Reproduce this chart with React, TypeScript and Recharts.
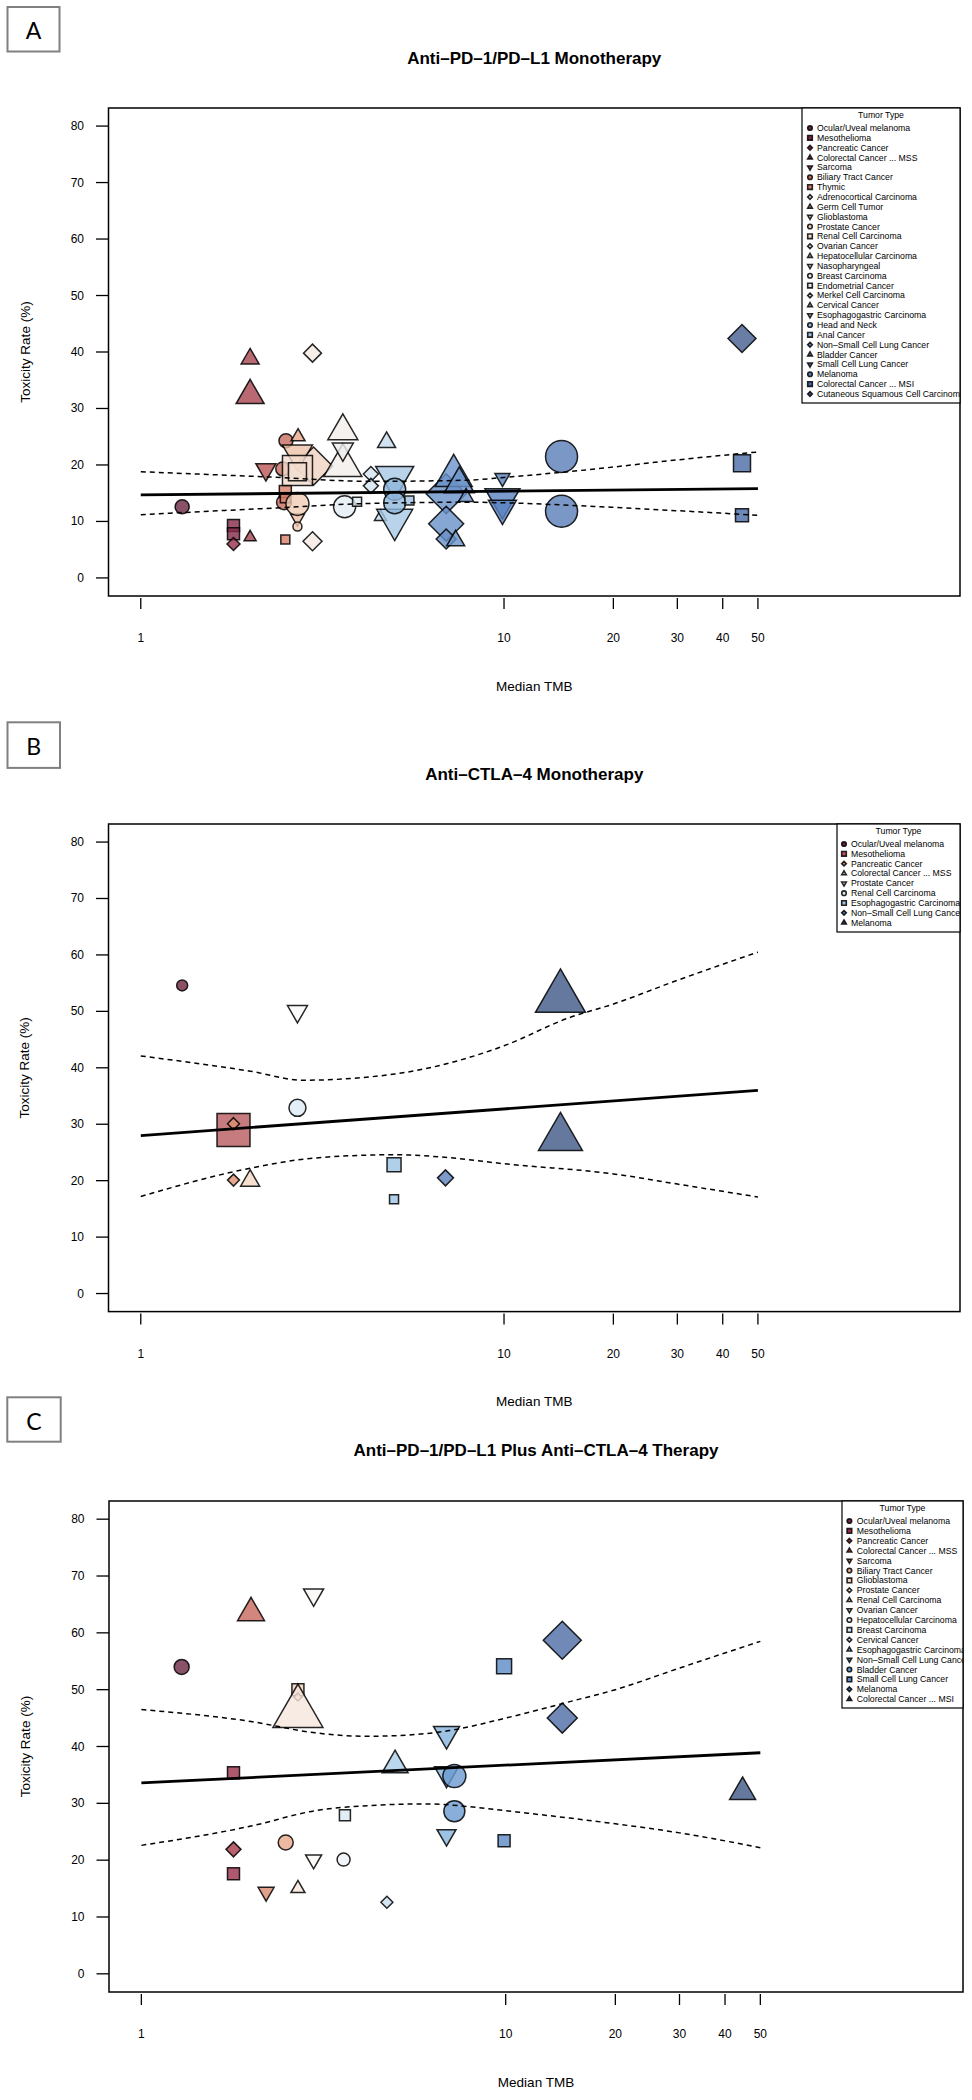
import React from "react";
import { ScatterChart, Scatter, XAxis, YAxis } from "recharts";

type Pt = { x: number; y: number; n: number };
type Kind = "circle" | "square" | "diamond" | "up" | "down";

const FONT = "'Liberation Sans', Arial, Helvetica, sans-serif";

const xTicks = [1, 10, 20, 30, 40, 50];
const yTicks = [0, 10, 20, 30, 40, 50, 60, 70, 80];
const xDomain: [number, number] = [0.815, 180];
const yDomain: [number, number] = [-3.2, 83.2];
const shapeCycle: Kind[] = ["circle", "square", "diamond", "up", "down"];

// ---------- A: anti-PD-1/PD-L1 ----------
const tumorsA = [
  "Ocular/Uveal melanoma", "Mesothelioma", "Pancreatic Cancer", "Colorectal Cancer ... MSS",
  "Sarcoma", "Biliary Tract Cancer", "Thymic", "Adrenocortical Carcinoma", "Germ Cell Tumor",
  "Glioblastoma", "Prostate Cancer", "Renal Cell Carcinoma", "Ovarian Cancer",
  "Hepatocellular Carcinoma", "Nasopharyngeal", "Breast Carcinoma", "Endometrial Cancer",
  "Merkel Cell Carcinoma", "Cervical Cancer", "Esophagogastric Carcinoma", "Head and Neck",
  "Anal Cancer", "Non\u2013Small Cell Lung Cancer", "Bladder Cancer", "Small Cell Lung Cancer",
  "Melanoma", "Colorectal Cancer ... MSI", "Cutaneous Squamous Cell Carcinoma",
];
const colorsA = [
  "#6b2743", "#842a48", "#952f4a", "#a8434f", "#ba5654", "#c76b5e", "#d8806a", "#f0d3c2",
  "#e8a888", "#edc2a8", "#f0cdb5", "#f2ddd0", "#f6eae3", "#f2edea", "#eeeeee", "#e4edf4",
  "#dce8f2", "#d3e4f0", "#c6dcee", "#a8c9e5", "#8fb6db", "#9ec2e0", "#6890c8", "#6a94ca",
  "#5a82c0", "#5a7db8", "#4a6ba5", "#435c8f",
];
const pointsA: Pt[][] = [
  [{ x: 1.3, y: 12.6, n: 196 }],
  [{ x: 1.8, y: 9.3, n: 144 }, { x: 1.8, y: 7.8, n: 144 }],
  [{ x: 1.8, y: 6.0, n: 169 }],
  [{ x: 2.0, y: 38.8, n: 324 }, { x: 2.0, y: 32.3, n: 784 }, { x: 2.0, y: 7.2, n: 144 }],
  [{ x: 2.21, y: 19.2, n: 400 }],
  [{ x: 2.46, y: 19.3, n: 196 }, { x: 2.51, y: 24.3, n: 196 }, { x: 2.48, y: 13.4, n: 225 }],
  [{ x: 2.5, y: 15.3, n: 144 }, { x: 2.5, y: 14.2, n: 100 }, { x: 2.5, y: 6.8, n: 81 }],
  [{ x: 2.99, y: 19.8, n: 1444 }],
  [{ x: 2.71, y: 25.0, n: 196 }],
  [{ x: 2.7, y: 22.0, n: 900 }, { x: 2.7, y: 10.6, n: 196 }],
  [{ x: 2.7, y: 13.1, n: 529 }, { x: 2.7, y: 9.1, n: 81 }],
  [{ x: 2.7, y: 19.0, n: 900 }, { x: 2.7, y: 18.8, n: 324 }],
  [{ x: 2.97, y: 39.8, n: 324 }, { x: 2.97, y: 6.5, n: 361 }],
  [{ x: 3.6, y: 19.9, n: 1444 }, { x: 3.6, y: 26.0, n: 900 }],
  [{ x: 3.6, y: 22.8, n: 441 }],
  [{ x: 3.64, y: 12.6, n: 484 }],
  [{ x: 3.94, y: 13.5, n: 81 }],
  [{ x: 4.3, y: 18.4, n: 225 }, { x: 4.3, y: 16.3, n: 225 }],
  [{ x: 4.75, y: 24.0, n: 324 }, { x: 4.57, y: 10.8, n: 144 }],
  [{ x: 5.0, y: 17.8, n: 1444 }, { x: 5.0, y: 10.3, n: 1296 }],
  [{ x: 5.0, y: 15.7, n: 484 }, { x: 5.0, y: 13.3, n: 484 }],
  [{ x: 5.49, y: 13.7, n: 81 }],
  [{ x: 6.93, y: 14.9, n: 1600 }, { x: 6.93, y: 9.6, n: 1225 }, { x: 6.93, y: 6.9, n: 400 }],
  [{ x: 7.27, y: 18.1, n: 1369 }, { x: 7.53, y: 16.6, n: 900 }, { x: 7.86, y: 14.3, n: 225 }, { x: 7.36, y: 6.6, n: 324 }],
  [{ x: 9.9, y: 17.7, n: 225 }, { x: 9.9, y: 14.0, n: 1225 }, { x: 9.9, y: 12.3, n: 784 }],
  [{ x: 14.4, y: 21.5, n: 1024 }, { x: 14.4, y: 11.8, n: 1024 }],
  [{ x: 45.2, y: 20.3, n: 289 }, { x: 45.2, y: 11.1, n: 169 }],
  [{ x: 45.2, y: 42.4, n: 784 }],
];
const fitA = [{ x: 1, y: 14.7 }, { x: 50, y: 15.8 }];
const upperA = [
  { x: 1, y: 18.8 }, { x: 2.2, y: 17.9 }, { x: 4.3, y: 17.1 }, { x: 7.9, y: 17.3 },
  { x: 10, y: 17.8 }, { x: 18.5, y: 19.4 }, { x: 30, y: 20.9 }, { x: 50, y: 22.3 },
];
const lowerA = [
  { x: 1, y: 11.2 }, { x: 2.2, y: 12.3 }, { x: 4.3, y: 13.2 }, { x: 7.9, y: 13.4 },
  { x: 10, y: 13.3 }, { x: 18.5, y: 12.6 }, { x: 30, y: 11.9 }, { x: 50, y: 11.1 },
];

// ---------- B: anti-CTLA-4 ----------
const tumorsB = [
  "Ocular/Uveal melanoma", "Mesothelioma", "Pancreatic Cancer", "Colorectal Cancer ... MSS",
  "Prostate Cancer", "Renal Cell Carcinoma", "Esophagogastric Carcinoma",
  "Non\u2013Small Cell Lung Cancer", "Melanoma",
];
const colorsB = ["#6e2340", "#b85a5e", "#e0906f", "#f5d8c4", "#fafafa", "#dceaf4", "#9cc3e4", "#5d82bd", "#3f5787"];
const pointsB: Pt[][] = [
  [{ x: 1.3, y: 54.6, n: 121 }],
  [{ x: 1.8, y: 29.0, n: 1089 }],
  [{ x: 1.8, y: 30.1, n: 144 }, { x: 1.8, y: 20.1, n: 144 }],
  [{ x: 2.0, y: 20.0, n: 361 }],
  [{ x: 2.7, y: 50.0, n: 400 }],
  [{ x: 2.7, y: 32.9, n: 289 }],
  [{ x: 4.98, y: 22.8, n: 196 }, { x: 4.98, y: 16.7, n: 81 }],
  [{ x: 6.9, y: 20.5, n: 256 }],
  [{ x: 14.3, y: 52.4, n: 2500 }, { x: 14.3, y: 27.6, n: 1936 }],
];
const fitB = [{ x: 1, y: 28.0 }, { x: 50, y: 36.0 }];
const upperB = [
  { x: 1, y: 42.1 }, { x: 2, y: 39.4 }, { x: 2.8, y: 37.8 }, { x: 5, y: 38.9 }, { x: 10, y: 43.9 },
  { x: 15, y: 48.8 }, { x: 20, y: 51.3 }, { x: 30, y: 55.5 }, { x: 50, y: 60.5 },
];
const lowerB = [
  { x: 1, y: 17.2 }, { x: 2, y: 22.2 }, { x: 3, y: 24.0 }, { x: 5, y: 24.6 }, { x: 7, y: 24.1 },
  { x: 10, y: 23.0 }, { x: 20, y: 21.2 }, { x: 30, y: 19.4 }, { x: 50, y: 17.1 },
];

// ---------- C: combination ----------
const tumorsC = [
  "Ocular/Uveal melanoma", "Mesothelioma", "Pancreatic Cancer", "Colorectal Cancer ... MSS",
  "Sarcoma", "Biliary Tract Cancer", "Glioblastoma", "Prostate Cancer", "Renal Cell Carcinoma",
  "Ovarian Cancer", "Hepatocellular Carcinoma", "Breast Carcinoma", "Cervical Cancer",
  "Esophagogastric Carcinoma", "Non\u2013Small Cell Lung Cancer", "Bladder Cancer",
  "Small Cell Lung Cancer", "Melanoma", "Colorectal Cancer ... MSI",
];
const colorsC = [
  "#6b2743", "#9b2f4a", "#a8394a", "#c8685c", "#d98a6e", "#e8a888", "#f2cdb8", "#f6e0d4",
  "#f6e6dc", "#faf7f5", "#eef3f8", "#dce8f2", "#cadfee", "#a9cde8", "#86b3dc", "#6a9ad0",
  "#5c8bc6", "#4e6ca5", "#3f5787",
];
const pointsC: Pt[][] = [
  [{ x: 1.29, y: 54.0, n: 225 }],
  [{ x: 1.79, y: 35.4, n: 144 }, { x: 1.79, y: 17.6, n: 144 }],
  [{ x: 1.79, y: 21.9, n: 225 }],
  [{ x: 2.0, y: 63.5, n: 729 }],
  [{ x: 2.2, y: 14.4, n: 256 }],
  [{ x: 2.49, y: 23.1, n: 225 }],
  [{ x: 2.69, y: 50.0, n: 144 }],
  [{ x: 2.69, y: 48.7, n: 64 }],
  [{ x: 2.69, y: 45.9, n: 2500 }, { x: 2.69, y: 15.0, n: 196 }],
  [{ x: 2.97, y: 66.7, n: 400 }, { x: 2.97, y: 20.1, n: 256 }],
  [{ x: 3.59, y: 20.1, n: 169 }],
  [{ x: 3.62, y: 27.9, n: 121 }],
  [{ x: 4.72, y: 12.6, n: 144 }],
  [{ x: 4.97, y: 36.7, n: 676 }],
  [{ x: 6.88, y: 42.2, n: 676 }, { x: 6.88, y: 35.2, n: 576 }, { x: 6.88, y: 24.4, n: 361 }],
  [{ x: 7.23, y: 34.8, n: 529 }, { x: 7.23, y: 28.6, n: 441 }],
  [{ x: 9.9, y: 54.1, n: 225 }, { x: 9.9, y: 23.4, n: 144 }],
  [{ x: 14.3, y: 58.7, n: 1444 }, { x: 14.3, y: 45.0, n: 900 }],
  [{ x: 44.7, y: 32.0, n: 676 }],
];
const fitC = [{ x: 1, y: 33.6 }, { x: 50, y: 38.9 }];
const upperC = [
  { x: 1, y: 46.5 }, { x: 2, y: 44.4 }, { x: 3, y: 42.4 }, { x: 4.2, y: 41.8 }, { x: 5, y: 41.9 },
  { x: 7, y: 42.8 }, { x: 10, y: 45.0 }, { x: 15, y: 47.9 }, { x: 20, y: 50.0 }, { x: 30, y: 53.8 },
  { x: 50, y: 58.5 },
];
const lowerC = [
  { x: 1, y: 22.6 }, { x: 2, y: 26.0 }, { x: 3, y: 28.7 }, { x: 4.5, y: 29.7 }, { x: 6, y: 29.9 },
  { x: 8, y: 29.4 }, { x: 10, y: 28.7 }, { x: 15, y: 27.4 }, { x: 20, y: 26.4 }, { x: 30, y: 24.8 },
  { x: 50, y: 22.2 },
];

const markerPath = (kind: Kind, cx: number, cy: number, w: number) => {
  const h = w / 2;
  const t = w * 0.866;
  switch (kind) {
    case "square":
      return `M${cx - h},${cy - h}h${w}v${w}h${-w}Z`;
    case "diamond":
      return `M${cx},${cy - h}L${cx + h},${cy}L${cx},${cy + h}L${cx - h},${cy}Z`;
    case "up":
      return `M${cx},${cy - (2 * t) / 3}L${cx + h},${cy + t / 3}L${cx - h},${cy + t / 3}Z`;
    default:
      return `M${cx},${cy + (2 * t) / 3}L${cx + h},${cy - t / 3}L${cx - h},${cy - t / 3}Z`;
  }
};

const Marker = ({ cx, cy, w, kind, color, lw = 1.5, op = 0.8 }: any) => {
  if (cx == null || cy == null) return <g />;
  const common = { fill: color, fillOpacity: op, stroke: "#000", strokeOpacity: 0.85, strokeWidth: lw };
  if (kind === "circle") return <circle cx={cx} cy={cy} r={w / 2} {...common} />;
  return <path d={markerPath(kind, cx, cy, w)} {...common} />;
};

const XTick = ({ x, y, payload }: any) => (
  <g>
    <line x1={x} x2={x} y1={y + 2} y2={y + 13} stroke="#000" strokeWidth={1.3} />
    <text x={x} y={y + 42} textAnchor="middle" dominantBaseline="central" fontSize={12} fontFamily={FONT} fill="#000">
      {payload.value}
    </text>
  </g>
);

const YTick = ({ x, y, payload }: any) => (
  <g>
    <line x1={x - 12.5} x2={x} y1={y} y2={y} stroke="#000" strokeWidth={1.3} />
    <text x={x - 24.5} y={y} textAnchor="end" dominantBaseline="central" fontSize={12} fontFamily={FONT} fill="#000">
      {payload.value}
    </text>
  </g>
);

interface PanelCfg {
  top: number;
  letter: string;
  box: { x: number; y: number; w: number; h: number };
  title: string;
  titleY: number;
  plot: { left: number; right: number; top: number; bottom: number };
  legend: { x: number; y: number; w: number; h: number; step: number; sym: number; txt: number };
  tumors: string[];
  colors: string[];
  points: Pt[][];
  fit: { x: number; y: number }[];
  upper: { x: number; y: number }[];
  lower: { x: number; y: number }[];
}

const H = 720;

const Panel = ({ c }: { c: PanelCfg }) => {
  const { plot, legend } = c;
  const midX = (plot.left + plot.right) / 2;
  const midY = (plot.top + plot.bottom) / 2;
  const clipId = `leg-${c.letter}`;
  return (
    <div style={{ position: "absolute", left: 0, top: c.top, width: 972, height: H }}>
      <ScatterChart
        width={972}
        height={H}
        margin={{ top: plot.top, right: 972 - plot.right, bottom: H - plot.bottom - 100, left: plot.left - 100 }}
      >
        <XAxis
          type="number"
          dataKey="x"
          scale="log"
          domain={xDomain}
          allowDataOverflow
          ticks={xTicks}
          interval={0}
          axisLine={false}
          tickLine={false}
          tickSize={0}
          tickMargin={0}
          height={100}
          tick={XTick}
        />
        <YAxis
          type="number"
          dataKey="y"
          domain={yDomain}
          allowDataOverflow
          ticks={yTicks}
          interval={0}
          axisLine={false}
          tickLine={false}
          tickSize={0}
          tickMargin={0}
          width={100}
          tick={YTick}
        />
        {c.points.map((pts, i) => (
          <Scatter
            key={c.tumors[i]}
            name={c.tumors[i]}
            data={pts}
            isAnimationActive={false}
            shape={(p: any) => (
              <Marker cx={p.cx} cy={p.cy} w={Math.sqrt(p.payload.n)} kind={shapeCycle[i % 5]} color={c.colors[i]} />
            )}
          />
        ))}
        <Scatter
          data={c.upper}
          fill="#000"
          line={{ stroke: "#000", strokeWidth: 1.5, strokeDasharray: "5 4" }}
          lineJointType="monotoneX"
          shape={() => <g />}
          isAnimationActive={false}
        />
        <Scatter
          data={c.lower}
          fill="#000"
          line={{ stroke: "#000", strokeWidth: 1.5, strokeDasharray: "5 4" }}
          lineJointType="monotoneX"
          shape={() => <g />}
          isAnimationActive={false}
        />
        <Scatter
          data={c.fit}
          fill="#000"
          line={{ stroke: "#000", strokeWidth: 2.8 }}
          shape={() => <g />}
          isAnimationActive={false}
        />
      </ScatterChart>
      <svg
        width={972}
        height={H}
        style={{ position: "absolute", left: 0, top: 0, overflow: "visible", pointerEvents: "none" }}
      >
        <rect x={c.box.x} y={c.box.y} width={c.box.w} height={c.box.h} fill="#fff" stroke="#808080" strokeWidth={2} />
        <text
          x={c.box.x + c.box.w / 2}
          y={c.box.y + c.box.h / 2 + 1}
          textAnchor="middle"
          dominantBaseline="central"
          fontSize={23}
          fontFamily="Lato, 'Open Sans', sans-serif"
          fill="#000"
        >
          {c.letter}
        </text>
        <text x={midX} y={c.titleY} textAnchor="middle" dominantBaseline="central" fontSize={17} fontWeight="bold" fontFamily={FONT} fill="#000">
          {c.title}
        </text>
        <rect x={plot.left} y={plot.top} width={plot.right - plot.left} height={plot.bottom - plot.top} fill="none" stroke="#000" strokeWidth={1.5} />
        <text x={midX} y={plot.bottom + 90} textAnchor="middle" dominantBaseline="central" fontSize={13.5} fontFamily={FONT} fill="#000">
          Median TMB
        </text>
        <text
          x={25}
          y={midY}
          transform={`rotate(-90 25 ${midY})`}
          textAnchor="middle"
          dominantBaseline="central"
          fontSize={13.5}
          fontFamily={FONT}
          fill="#000"
        >
          Toxicity Rate (%)
        </text>
        <defs>
          <clipPath id={clipId}>
            <rect x={legend.x} y={legend.y} width={legend.w} height={legend.h} />
          </clipPath>
        </defs>
        <rect x={legend.x} y={legend.y} width={legend.w} height={legend.h} fill="#fff" stroke="#000" strokeWidth={1.2} />
        <g clipPath={`url(#${clipId})`}>
          <text x={legend.x + legend.w / 2} y={legend.y + 7.3} textAnchor="middle" dominantBaseline="central" fontSize={8.7} fontFamily={FONT} fill="#000">
            Tumor Type
          </text>
          {c.tumors.map((t, i) => {
            const yy = legend.y + 20 + i * legend.step;
            return (
              <g key={t}>
                <Marker cx={legend.x + legend.sym} cy={yy} w={4.6} kind={shapeCycle[i % 5]} color={c.colors[i]} lw={1.6} op={1} />
                <text x={legend.x + legend.txt} y={yy} dominantBaseline="central" fontSize={8.7} fontFamily={FONT} fill="#000">
                  {t}
                </text>
              </g>
            );
          })}
        </g>
      </svg>
    </div>
  );
};

const panels: PanelCfg[] = [
  {
    top: 0,
    letter: "A",
    box: { x: 7.5, y: 7, w: 52, h: 44.5 },
    title: "Anti\u2013PD\u20131/PD\u2013L1 Monotherapy",
    titleY: 58,
    plot: { left: 108.5, right: 960, top: 108, bottom: 596 },
    legend: { x: 802, y: 108, w: 158, h: 295, step: 9.85, sym: 8, txt: 15 },
    tumors: tumorsA,
    colors: colorsA,
    points: pointsA,
    fit: fitA,
    upper: upperA,
    lower: lowerA,
  },
  {
    top: 700,
    letter: "B",
    box: { x: 7.5, y: 22.3, w: 52.5, h: 45.6 },
    title: "Anti\u2013CTLA\u20134 Monotherapy",
    titleY: 74.6,
    plot: { left: 108.5, right: 960, top: 124, bottom: 611.6 },
    legend: { x: 837, y: 124, w: 123, h: 108, step: 9.83, sym: 7, txt: 14 },
    tumors: tumorsB,
    colors: colorsB,
    points: pointsB,
    fit: fitB,
    upper: upperB,
    lower: lowerB,
  },
  {
    top: 1390,
    letter: "C",
    box: { x: 7.3, y: 7.3, w: 53.4, h: 44.4 },
    title: "Anti\u2013PD\u20131/PD\u2013L1 Plus Anti\u2013CTLA\u20134 Therapy",
    titleY: 60.4,
    plot: { left: 109, right: 963, top: 111, bottom: 602 },
    legend: { x: 842, y: 111, w: 121, h: 207, step: 9.9, sym: 7.4, txt: 14.8 },
    tumors: tumorsC,
    colors: colorsC,
    points: pointsC,
    fit: fitC,
    upper: upperC,
    lower: lowerC,
  },
];

export default function App() {
  return (
    <div style={{ position: "absolute", left: 0, top: 0, width: 972, height: 2100, background: "#fff" }}>
      {panels.map((p) => (
        <Panel key={p.letter} c={p} />
      ))}
    </div>
  );
}
